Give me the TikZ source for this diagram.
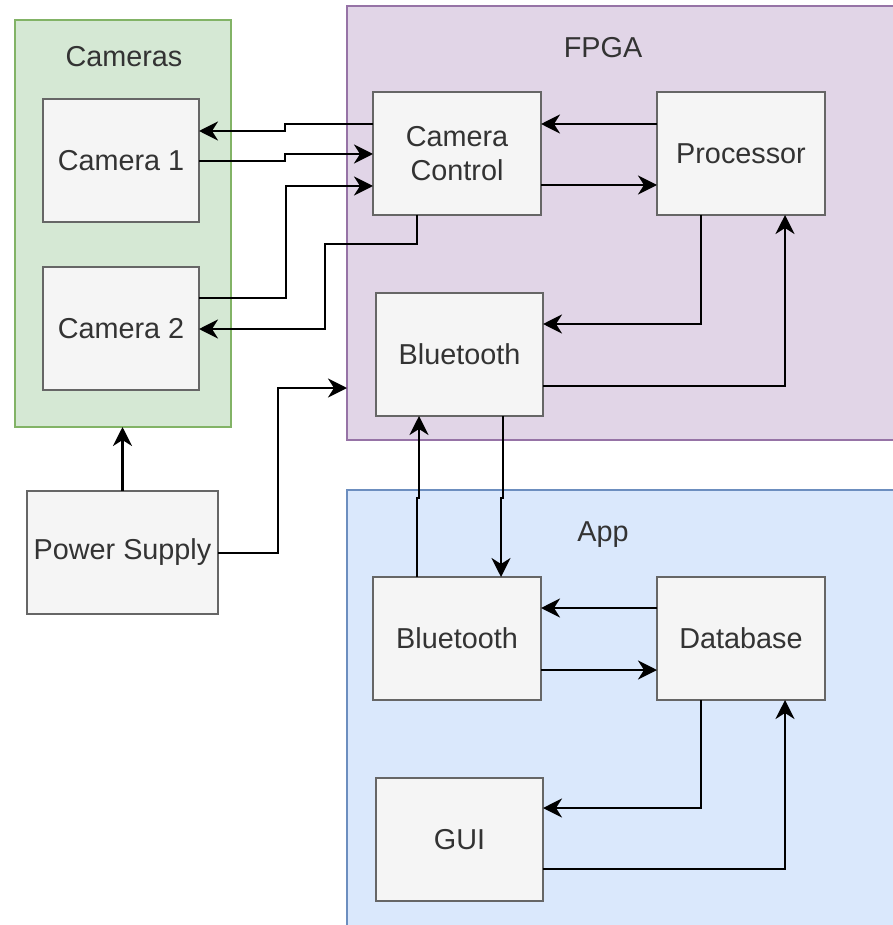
\documentclass[tikz,border=0pt]{standalone}
\usepackage{fontspec}
\setmainfont{Liberation Sans}
\usetikzlibrary{arrows.meta}

\definecolor{boxfill}{HTML}{F5F5F5}
\definecolor{boxline}{HTML}{666666}
\definecolor{boxtext}{HTML}{333333}
\definecolor{greenfill}{HTML}{D5E8D4}
\definecolor{greenline}{HTML}{82B366}
\definecolor{purplefill}{HTML}{E1D5E7}
\definecolor{purpleline}{HTML}{9673A6}
\definecolor{bluefill}{HTML}{DAE8FC}
\definecolor{blueline}{HTML}{6C8EBF}

\tikzset{
  group/.style={draw, line width=1.6pt, outer sep=0pt, inner sep=0pt},
  block/.style={draw=boxline, fill=boxfill, line width=2.6pt, outer sep=0pt,
    text=boxtext, align=center, font=\fontsize{28.8}{34.5}\selectfont},
  grouplabel/.style={text=boxtext, font=\fontsize{28.8}{34.5}\selectfont},
  link/.style={line width=2.6pt, -{Stealth[length=19pt, width=19pt, inset=6pt]}}
}

\begin{document}
\begin{tikzpicture}[x=1pt, y=-1pt]
\path[use as bounding box] (0,0) rectangle (892,925);

% container regions
\node[group, draw=greenline, fill=greenfill, minimum width=216pt, minimum height=407pt]
  (cams) at (123,223.5) {};
\node[group, draw=purpleline, fill=purplefill, minimum width=553pt, minimum height=434pt]
  (fpga) at (623.5,223) {};
\node[group, draw=blueline, fill=bluefill, minimum width=553pt, minimum height=445pt]
  (app) at (623.5,712.5) {};

\node[grouplabel] (camslabel) at (124,57) {Cameras};
\node[grouplabel] (fpgalabel) at (603,48) {FPGA};
\node[grouplabel] (applabel) at (603,535) {App};

% blocks
\node[block, minimum width=156pt, minimum height=123pt] (cam1) at (121,160.5) {Camera 1};
\node[block, minimum width=156pt, minimum height=123pt] (cam2) at (121,328.5) {Camera 2};
\node[block, minimum width=168pt, minimum height=123pt] (cc) at (457,153.5) {Camera\\Control};
\node[block, minimum width=168pt, minimum height=123pt] (proc) at (741,153.5) {Processor};
\node[block, minimum width=167pt, minimum height=123pt] (bt1) at (459.5,354.5) {Bluetooth};
\node[block, minimum width=191pt, minimum height=123pt] (ps) at (122.5,552.5) {Power Supply};
\node[block, minimum width=168pt, minimum height=123pt] (bt2) at (457,638.5) {Bluetooth};
\node[block, minimum width=168pt, minimum height=123pt] (db) at (741,638.5) {Database};
\node[block, minimum width=167pt, minimum height=123pt] (gui) at (459.5,839.5) {GUI};

% camera links
\draw[link] (cc.west |- 0,124) -| (285,131) -- (cam1.east |- 0,131);
\draw[link] (cam1.east |- 0,161) -| (285,154) -- (cc.west |- 0,154);
\draw[link] (cam2.east |- 0,298) -| (286,186) -- (cc.west |- 0,186);
\draw[link] (cc.south -| 417,0) |- (325,244) |- (cam2.east |- 0,329);

% FPGA internal links
\draw[link] (cc.east |- 0,185) -- (proc.west |- 0,185);
\draw[link] (proc.west |- 0,124) -- (cc.east |- 0,124);
\draw[link] (proc.south -| 701,0) |- (bt1.east |- 0,324);
\draw[link] (bt1.east |- 0,386) -| (proc.south -| 785,0);

% power
\draw[link] (ps.north) -- (cams.south -| ps.north);
\draw[link] (ps.east |- 0,553) -| (278,388) -- (fpga.west |- 0,388);

% wireless link
\draw[link] (bt2.north -| 417,0) -- (417,498) -- (419,498) -- (bt1.south -| 419,0);
\draw[link] (bt1.south -| 503,0) -- (503,498) -- (501,498) -- (bt2.north -| 501,0);

% app internal links
\draw[link] (db.west |- 0,608) -- (bt2.east |- 0,608);
\draw[link] (bt2.east |- 0,670) -- (db.west |- 0,670);
\draw[link] (db.south -| 701,0) |- (gui.east |- 0,808);
\draw[link] (gui.east |- 0,869) -| (db.south -| 785,0);
\end{tikzpicture}
\end{document}
